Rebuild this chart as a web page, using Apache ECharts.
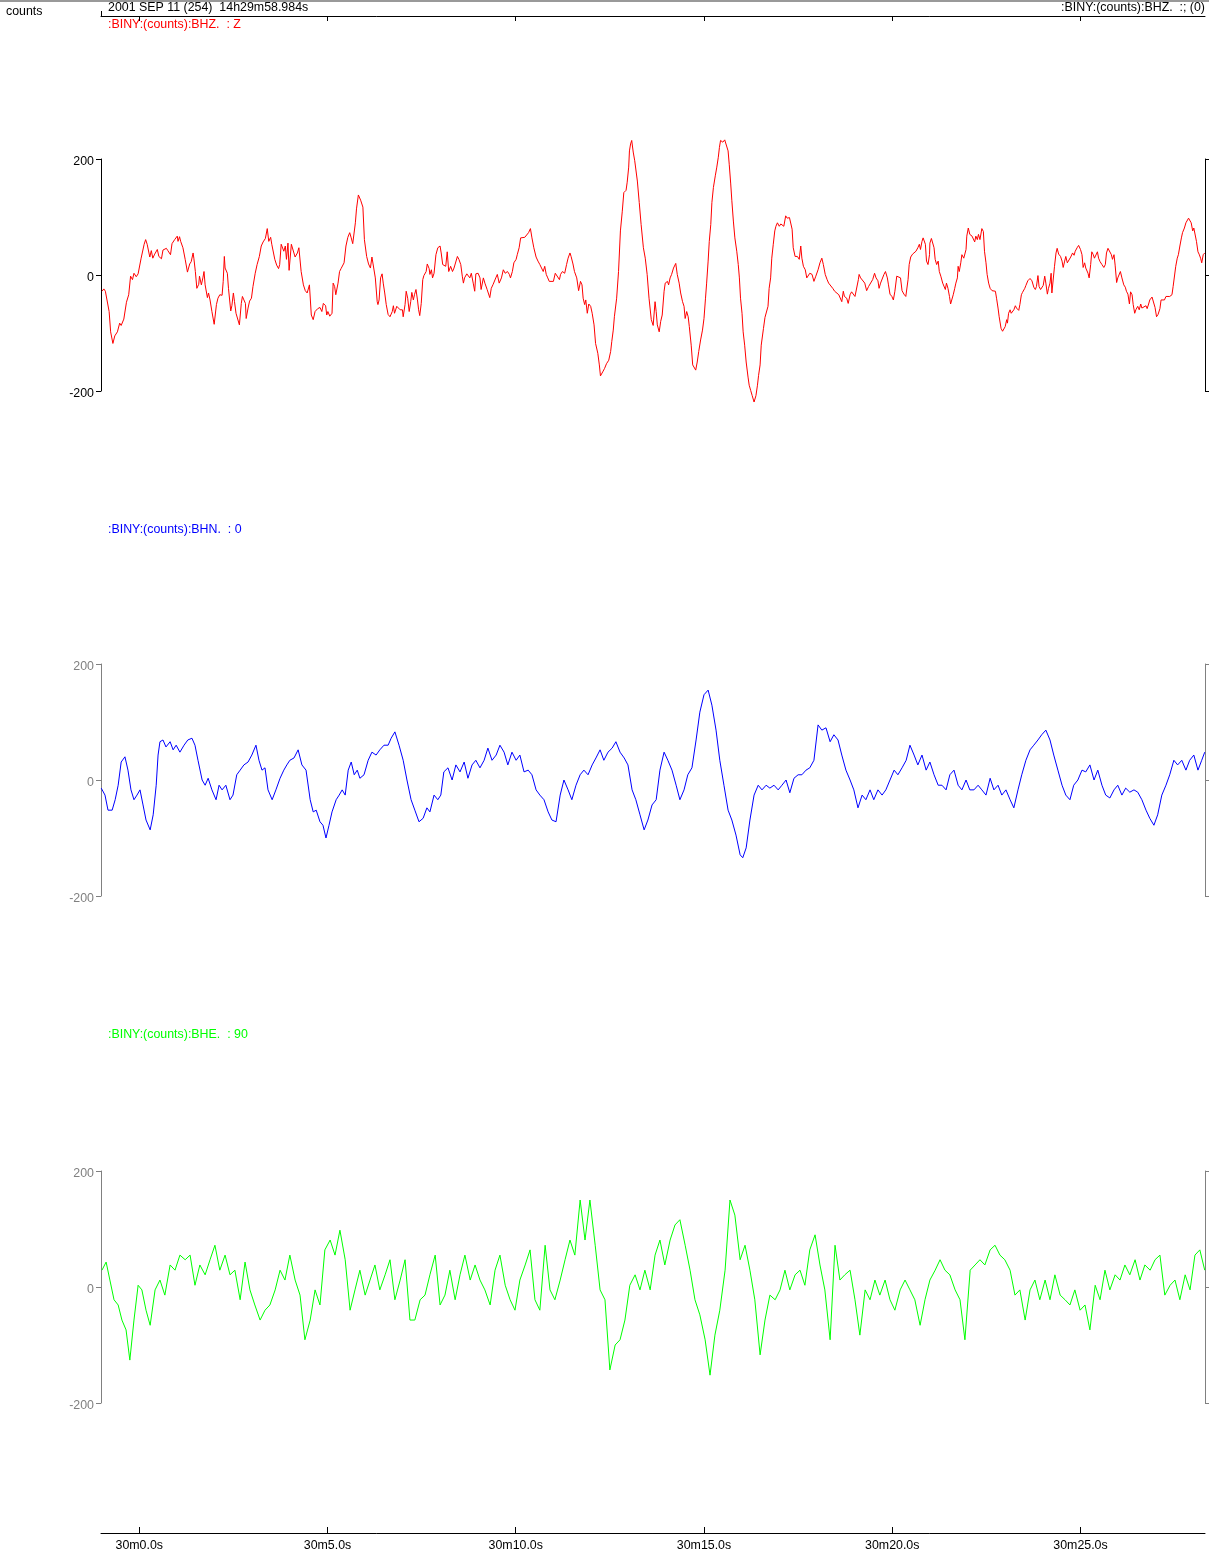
<!DOCTYPE html>
<html><head><meta charset="utf-8">
<script src="https://cdn.jsdelivr.net/npm/echarts@6/dist/echarts.min.js"></script>
<style>html,body{margin:0;padding:0;background:#fff;}#c{width:1209px;height:1552px;}</style>
</head><body><div id="c"></div>
<script>
// ---- data ----
const timeStart = -1.016;   // seconds relative to 14h30m0.0s (start 14h29m58.984s)
const timeEnd = 28.307;
const xTickSeconds = [0, 5, 10, 15, 20, 25];
const xTickLabels = ['30m0.0s', '30m5.0s', '30m10.0s', '30m15.0s', '30m20.0s', '30m25.0s'];
const yTickValues = [-200, 0, 200];
const headerText = '2001 SEP 11 (254)  14h29m58.984s';
const headerRight = ':BINY:(counts):BHZ.  :; (0)';
const unitText = 'counts';
const channelNames = [':BINY:(counts):BHZ.  : Z', ':BINY:(counts):BHN.  : 0', ':BINY:(counts):BHE.  : 90'];

const bhzTime = [-0.99,-0.94,-0.90,-0.85,-0.80,-0.76,-0.70,-0.65,-0.58,-0.52,-0.48,-0.41,-0.34,-0.28,-0.23,-0.18,-0.14,-0.08,-0.03,0.01,0.05,0.13,0.17,0.21,0.28,0.32,0.36,0.41,0.45,0.48,0.52,0.59,0.63,0.72,0.76,0.81,0.83,0.87,0.94,1.01,1.03,1.07,1.10,1.16,1.22,1.28,1.31,1.34,1.38,1.43,1.45,1.49,1.53,1.58,1.60,1.65,1.69,1.72,1.75,1.81,1.84,1.88,1.93,1.99,2.05,2.09,2.14,2.20,2.23,2.26,2.28,2.32,2.34,2.37,2.43,2.46,2.50,2.53,2.57,2.62,2.66,2.71,2.74,2.78,2.82,2.84,2.89,2.93,2.98,3.02,3.08,3.13,3.19,3.24,3.29,3.35,3.40,3.44,3.49,3.52,3.60,3.65,3.70,3.73,3.77,3.82,3.84,3.88,3.91,3.95,3.98,4.04,4.08,4.14,4.20,4.24,4.30,4.36,4.41,4.46,4.52,4.57,4.62,4.67,4.74,4.80,4.85,4.89,4.95,4.98,5.01,5.06,5.12,5.15,5.19,5.22,5.28,5.32,5.36,5.44,5.49,5.54,5.59,5.63,5.67,5.74,5.77,5.82,5.88,5.94,5.98,6.04,6.09,6.14,6.18,6.21,6.27,6.32,
6.34,6.37,6.41,6.45,6.48,6.52,6.56,6.61,6.66,6.72,6.75,6.78,6.84,6.87,6.93,6.99,7.01,7.06,7.09,7.13,7.17,7.21,7.24,7.28,7.31,7.35,7.39,7.42,7.45,7.49,7.53,7.56,7.62,7.65,7.70,7.72,7.76,7.79,7.83,7.88,7.93,7.99,8.02,8.06,8.09,8.14,8.18,8.22,8.27,8.32,8.36,8.40,8.45,8.49,8.54,8.58,8.61,8.64,8.70,8.73,8.78,8.82,8.87,8.91,8.94,9.00,9.05,9.08,9.14,9.18,9.24,9.31,9.35,9.40,9.47,9.51,9.56,9.62,9.67,9.72,9.78,9.83,9.86,9.91,9.95,10.01,10.04,10.09,10.13,10.17,10.24,10.29,10.34,10.39,10.43,10.48,10.54,10.59,10.64,10.68,10.73,10.77,10.81,10.85,10.89,10.94,11.00,11.05,11.10,11.16,11.19,11.24,11.30,11.35,11.39,11.44,11.47,11.52,11.56,11.62,11.67,11.72,11.76,11.79,11.83,11.86,11.90,11.94,11.99,12.03,12.08,12.12,12.18,12.22,12.25,12.31,12.36,12.41,12.47,12.52,12.55,12.59,12.62,12.68,12.73,12.78,12.83,12.87,12.93,12.96,13.00,13.02,13.05,13.08,13.12,13.16,13.23,13.28,13.33,13.39,13.44,13.49,13.54,13.60,13.65,
13.70,13.73,13.76,13.81,13.85,13.89,13.94,13.97,14.03,14.06,14.10,14.14,14.19,14.25,14.29,14.34,14.38,14.43,14.47,14.50,14.54,14.58,14.61,14.66,14.70,14.75,14.78,14.82,14.86,14.91,14.96,15.00,15.04,15.07,15.11,15.14,15.18,15.21,15.25,15.30,15.34,15.38,15.41,15.44,15.50,15.55,15.60,15.64,15.67,15.71,15.74,15.78,15.82,15.87,15.91,15.94,15.97,16.01,16.04,16.08,16.12,16.17,16.20,16.24,16.28,16.33,16.38,16.42,16.45,16.49,16.52,16.58,16.62,16.66,16.70,16.73,16.77,16.80,16.84,16.88,16.91,16.95,17.00,17.04,17.09,17.12,17.17,17.21,17.27,17.30,17.34,17.37,17.42,17.48,17.53,17.57,17.60,17.64,17.69,17.73,17.77,17.81,17.87,17.92,17.97,18.03,18.08,18.13,18.17,18.22,18.27,18.31,18.36,18.42,18.47,18.52,18.58,18.63,18.66,18.70,18.73,18.79,18.83,18.88,18.92,18.96,19.01,19.05,19.10,19.12,19.16,19.21,19.27,19.32,19.37,19.42,19.48,19.53,19.57,19.62,19.65,19.69,19.74,19.78,19.82,19.87,19.90,19.94,19.99,20.03,20.07,20.12,20.17,20.22,20.26,20.31,20.36,20.42,20.45,20.49,20.54,20.58,20.63,20.68,20.72,20.75,20.79,20.82,20.88,20.91,20.95,
20.99,21.00,21.04,21.07,21.11,21.14,21.18,21.22,21.25,21.29,21.34,21.38,21.41,21.44,21.48,21.52,21.55,21.59,21.62,21.66,21.69,21.73,21.75,21.78,21.82,21.85,21.90,21.96,21.98,22.02,22.06,22.12,22.15,22.19,22.22,22.26,22.29,22.33,22.38,22.42,22.45,22.49,22.52,22.56,22.60,22.65,22.70,22.74,22.77,22.81,22.84,22.89,22.93,22.98,23.00,23.04,23.06,23.09,23.13,23.16,23.20,23.23,23.27,23.30,23.36,23.39,23.43,23.46,23.52,23.55,23.60,23.66,23.71,23.76,23.80,23.83,23.87,23.90,23.94,23.98,24.01,24.05,24.08,24.12,24.15,24.19,24.22,24.24,24.28,24.31,24.35,24.38,24.42,24.47,24.51,24.54,24.58,24.61,24.65,24.68,24.74,24.79,24.83,24.86,24.91,24.95,25.00,25.04,25.07,25.11,25.14,25.20,25.23,25.27,25.30,25.34,25.37,25.41,25.45,25.48,25.52,25.57,25.62,25.66,25.69,25.73,25.78,25.82,25.85,25.89,25.92,25.96,25.99,26.03,26.06,26.10,26.15,26.19,26.22,26.26,26.30,26.33,26.37,26.40,26.44,26.47,26.52,26.56,26.60,26.63,26.68,26.74,26.77,26.81,26.84,26.90,26.95,26.98,27.02,27.06,27.11,27.14,27.18,27.23,27.27,27.32,27.37,27.43,27.46,27.50,27.53,27.57,27.60,27.64,27.68,27.71,27.76,27.80,27.83,27.87,27.90,27.94,27.98,28.01,28.05,28.08,28.12,28.15,28.19,28.22,28.26,28.30];
const bhzCounts = [-28,-24,-28,-29,-63,-98,-118,-105,-98,-83,-87,-76,-47,-34,-2,-8,3,-3,2,1,29,53,61,53,31,42,29,36,35,44,32,28,43,46,42,43,35,54,61,67,58,66,58,47,27,5,12,19,23,38,29,6,-23,-16,-2,-17,-5,6,-17,-39,-31,-43,-63,-85,-51,-40,-34,-35,-11,32,12,15,3,-23,-62,-53,-31,-46,-66,-69,-86,-49,-37,-43,-49,-75,-57,-45,-40,-20,3,18,32,50,57,63,80,58,65,53,27,17,11,18,53,54,41,50,27,55,8,53,55,31,38,47,6,-17,-27,-31,-17,-69,-77,-63,-58,-56,-63,-49,-53,-69,-63,-71,-66,-14,-20,-34,-14,6,11,21,50,65,73,64,54,90,114,138,129,117,61,32,19,12,31,19,-5,-46,
-51,-43,-5,2,-14,-31,-51,-68,-72,-63,-53,-66,-54,-56,-60,-60,-72,-51,-28,-40,-63,-46,-30,-43,-34,-25,-43,-60,-70,-49,-8,-1,6,19,11,1,9,-5,3,35,47,50,38,18,21,15,40,6,15,6,12,15,32,27,18,-2,-14,-5,2,3,-5,3,-14,-28,2,3,-5,-25,-5,-14,-25,-39,-23,-16,-5,1,-14,-5,9,3,6,1,-5,6,21,27,35,47,64,61,65,67,73,80,64,47,31,24,18,15,6,15,1,-5,-11,-8,-11,3,1,-8,1,6,3,18,29,38,32,19,6,-5,-27,-11,-17,-40,-51,-43,-66,-50,-54,-66,-86,-118,-135,-155,-174,-167,-161,-153,-147,-132,-115,-95,-72,-40,6,76,110,142,146,160,186,214,226,232,212,197,162,125,87,47,29,1,-40,-77,-87,
-46,-63,-86,-98,-80,-69,-28,-14,-11,-17,-5,1,12,20,1,-14,-31,-46,-54,-75,-63,-72,-89,-121,-155,-158,-164,-150,-132,-112,-95,-75,-40,-14,24,58,87,125,151,171,186,203,220,232,229,233,236,214,191,157,128,93,64,41,18,-5,-40,-66,-98,-121,-150,-176,-190,-199,-208,-219,-208,-190,-173,-155,-121,-92,-73,-75,-54,-23,-5,29,53,76,84,90,84,88,87,84,102,98,99,98,79,47,32,32,27,50,29,15,9,-5,-8,3,1,-11,-2,9,21,29,18,1,-8,-14,-17,-23,-28,-31,-34,-37,-46,-28,-37,-40,-49,-34,-29,-31,-37,-34,-8,1,-5,-2,-14,-27,-20,-17,-8,3,-5,-10,-23,-14,-11,1,6,-5,-17,-33,-37,-43,-28,-2,-5,-5,-27,-33,-37,-8,18,31,36,38,41,47,53,44,58,64,53,24,18,
35,55,63,60,47,27,18,24,6,-2,-14,-17,-25,-14,-23,-37,-50,-47,-34,-23,-14,-5,15,6,21,35,29,44,67,81,70,67,64,57,67,61,70,61,80,75,41,21,1,-14,-23,-27,-26,-28,-40,-57,-72,-92,-97,-98,-89,-77,-83,-66,-60,-66,-63,-60,-53,-57,-61,-51,-34,-30,-23,-18,-10,-6,-10,-21,-25,-20,-1,-20,-25,-28,-18,-2,-14,-33,-23,-14,3,-31,-34,15,38,46,36,32,24,13,24,32,21,24,31,38,34,41,47,51,44,35,13,21,12,3,-5,18,40,35,29,29,40,29,23,18,13,18,38,46,44,35,27,35,17,-13,-5,-2,6,-5,-17,-21,-28,-33,-50,-29,-34,-51,-66,-60,-54,-60,-50,-57,-54,-53,-58,-50,-43,-38,-40,-56,-72,-68,-58,-43,-46,-43,-37,-34,-37,-34,-20,-23,15,29,35,50,64,73,81,90,93,98,100,90,76,81,84,58,40,36,29,21,35,38];

const bhnTime = [-1.01,-0.91,-0.83,-0.72,-0.64,-0.56,-0.48,-0.38,-0.30,-0.22,-0.14,-0.06,0.02,0.10,0.18,0.29,0.37,0.45,0.50,0.55,0.63,0.71,0.82,0.90,0.98,1.08,1.19,1.29,1.40,1.48,1.56,1.67,1.75,1.83,1.93,2.04,2.12,2.20,2.30,2.41,2.49,2.59,2.68,2.78,2.89,2.99,3.10,3.18,3.26,3.34,3.42,3.53,3.63,3.74,3.84,3.92,4.00,4.11,4.22,4.32,4.43,4.54,4.62,4.70,4.80,4.88,4.96,5.04,5.12,5.23,5.31,5.39,5.47,5.55,5.63,5.71,5.79,5.86,5.97,6.08,6.18,6.29,6.39,6.50,6.61,6.69,6.79,6.90,7.01,7.11,7.22,7.32,7.43,7.54,7.64,7.72,7.83,7.93,8.01,8.09,8.20,8.31,8.41,8.52,8.63,8.73,8.84,8.94,9.05,9.16,9.26,9.37,9.48,9.58,9.69,9.79,9.90,10.01,10.11,10.22,10.33,10.43,10.54,10.64,10.75,10.86,10.96,11.07,11.18,11.28,11.39,11.49,11.60,11.71,11.81,11.92,12.03,12.13,12.24,12.34,12.45,12.56,12.66,12.77,12.88,12.98,13.09,13.19,13.30,13.41,13.51,13.62,13.73,13.83,13.94,14.04,14.15,14.26,14.36,14.47,14.57,14.68,14.79,14.89,15.00,15.11,15.21,15.32,15.42,15.53,15.64,15.74,15.85,15.96,16.03,16.12,16.22,16.33,16.44,16.54,16.65,16.75,16.86,16.97,17.07,17.18,17.28,17.39,17.50,17.60,17.71,17.81,17.92,18.03,18.13,18.24,18.35,18.45,18.56,18.66,18.77,18.88,18.98,19.09,19.20,19.30,19.41,19.51,19.62,19.73,19.83,19.94,20.05,20.15,20.26,20.37,20.47,20.58,20.68,20.79,20.90,21.00,21.11,21.22,21.32,21.43,21.53,21.64,21.75,21.85,21.96,22.06,22.17,22.28,22.38,22.49,22.60,22.70,22.81,22.91,23.02,23.13,23.23,23.34,23.44,23.55,23.66,23.76,23.87,23.97,24.08,24.19,24.29,24.40,24.51,24.61,24.72,24.82,24.93,25.04,25.14,25.25,25.36,25.46,25.57,25.67,25.78,25.89,25.99,26.10,26.20,26.31,26.42,26.52,26.63,26.74,26.84,26.95,27.05,27.16,27.27,27.37,27.48,27.58,27.69,27.80,27.90,28.01,28.12,28.22,28.30];
const bhnCounts = [-14,-26,-52,-52,-34,-9,31,40,17,-17,-34,-26,-17,-43,-69,-86,-60,-9,43,66,69,57,66,52,60,48,60,69,72,60,34,0,-9,3,-17,-34,-9,-17,-9,-34,-26,9,17,26,31,43,60,34,17,21,-17,-34,-17,3,17,26,34,38,52,26,17,-34,-55,-52,-72,-78,-100,-78,-55,-34,-26,-17,-26,17,31,9,17,3,9,34,48,43,52,60,60,72,83,60,34,0,-34,-52,-72,-66,-48,-55,-26,-34,-26,14,21,0,26,14,31,3,26,34,21,34,55,34,43,60,48,26,48,34,43,14,17,9,-17,-26,-34,-55,-69,-72,-26,0,-17,-34,-9,9,17,9,26,38,52,34,48,55,66,48,38,26,-17,-34,-60,-86,-69,-43,-34,17,48,34,17,-9,-34,-17,9,21,69,117,147,155,129,86,34,-9,-52,-69,-95,-129,-134,-117,-69,-26,-9,-17,-9,-14,-9,-17,-9,0,-22,3,9,9,17,21,34,95,86,90,66,78,69,43,17,0,-17,-48,-26,-34,-17,-34,-17,-26,-17,0,17,9,21,34,60,43,26,43,17,31,9,-9,-9,-17,9,17,-9,-17,0,-17,-17,-9,-17,-26,3,-17,-9,-26,-17,-34,-48,-17,9,34,52,60,69,78,86,69,43,17,-9,-26,-34,-9,0,17,14,26,0,17,-9,-26,-31,-17,-9,-26,-14,-21,-17,-21,-34,-52,-66,-78,-60,-26,-9,9,34,26,34,17,34,43,17,34,48];

const bheTime = [-0.99,-0.88,-0.78,-0.67,-0.56,-0.46,-0.35,-0.25,-0.14,-0.03,0.07,0.18,0.29,0.42,0.55,0.68,0.82,0.95,1.08,1.22,1.35,1.48,1.61,1.75,1.88,2.01,2.14,2.28,2.41,2.54,2.68,2.81,2.94,3.07,3.21,3.34,3.47,3.61,3.74,3.87,4.00,4.14,4.27,4.40,4.54,4.67,4.80,4.93,5.07,5.20,5.33,5.47,5.60,5.73,5.86,6.00,6.13,6.26,6.39,6.53,6.66,6.79,6.93,7.06,7.19,7.32,7.46,7.59,7.72,7.86,7.99,8.12,8.25,8.39,8.52,8.65,8.79,8.92,9.05,9.18,9.32,9.45,9.58,9.72,9.85,9.98,10.11,10.25,10.38,10.51,10.64,10.78,10.91,11.04,11.18,11.31,11.44,11.57,11.71,11.84,11.97,12.11,12.24,12.37,12.50,12.64,12.77,12.90,13.03,13.17,13.30,13.43,13.57,13.70,13.83,13.96,14.10,14.23,14.36,14.50,14.63,14.76,14.89,15.03,15.16,15.29,15.42,15.56,15.69,15.82,15.96,16.09,16.22,16.35,16.49,16.62,16.75,16.89,17.02,17.15,17.28,17.42,17.55,17.68,17.81,17.95,18.08,18.21,18.35,18.48,18.61,18.74,18.88,19.01,19.14,19.28,19.41,19.54,19.67,19.81,19.94,20.07,20.21,20.34,20.47,20.60,20.74,20.87,21.00,21.14,21.27,21.40,21.53,21.67,21.80,21.93,22.07,22.20,22.33,22.46,22.60,22.73,22.86,22.99,23.13,23.26,23.39,23.53,23.66,23.79,23.92,24.06,24.19,24.32,24.46,24.59,24.72,24.85,24.99,25.12,25.25,25.39,25.52,25.65,25.78,25.92,26.05,26.18,26.31,26.45,26.58,26.71,26.85,26.98,27.11,27.24,27.38,27.51,27.64,27.78,27.91,28.04,28.17,28.30];
const bheCounts = [29,43,12,-22,-31,-57,-74,-126,-57,3,-5,-40,-66,-5,12,-14,38,29,55,47,55,3,38,21,47,72,29,55,21,29,-22,43,-5,-31,-57,-40,-31,-5,29,12,55,12,-14,-91,-57,-5,-31,64,81,55,98,47,-40,-5,29,-14,12,38,-5,21,47,-22,12,47,-57,-57,-22,-14,21,55,-31,-14,29,-22,21,55,12,38,12,-5,-31,29,55,3,-22,-40,12,38,64,-22,-40,72,-5,-22,12,47,81,55,150,81,150,72,-5,-22,-143,-100,-91,-57,3,21,-5,29,-5,55,81,38,81,107,116,72,29,-22,-48,-91,-152,-83,-40,29,150,124,47,72,29,-22,-117,-57,-14,-22,-5,29,-5,21,29,3,64,90,38,-5,-91,72,12,21,29,-22,-83,-5,-22,12,-14,12,-22,-40,-5,12,-5,-22,-66,-22,12,29,47,29,21,-5,-22,-91,29,38,47,38,64,72,55,47,29,-14,-5,-57,-5,12,-22,12,-22,21,-14,-22,-31,-5,-40,-31,-74,3,-22,29,-5,21,12,38,21,47,12,38,29,47,55,-14,3,12,-22,21,-5,55,64,29];

// ---- chart ----
const chart = echarts.init(document.getElementById('c'), null, {renderer: 'canvas'});
const FONT = '"Liberation Sans", Arial, sans-serif';
const FSIZE = 12.4;
const panelTops = [159, 664, 1171];
const panelHeight = 232;
const axisColors = ['#000000', '#808080', '#808080'];
const traceColors = ['#ff0000', '#0000ff', '#00ff00'];
const traces = [[bhzTime, bhzCounts], [bhnTime, bhnCounts], [bheTime, bheCounts]];

const grid = [], xAxis = [], yAxis = [], series = [];
panelTops.forEach((top, i) => {
  grid.push({left: 101, right: 4, top: top, height: panelHeight, containLabel: false});
  xAxis.push({type: 'value', gridIndex: i, min: timeStart, max: timeEnd, show: false});
  const yBase = {type: 'value', gridIndex: i, min: yTickValues[0], max: yTickValues[2], interval: 200,
    splitLine: {show: false},
    axisLine: {show: true, onZero: false, lineStyle: {color: axisColors[i], width: 1}},
    axisTick: {show: true, inside: false, length: 5, lineStyle: {color: axisColors[i]}}};
  yAxis.push(Object.assign({}, yBase, {position: 'left',
    axisLabel: {show: true, color: axisColors[i], fontSize: FSIZE, fontFamily: FONT, margin: 7,
      formatter: '{v|{value}}', rich: {v: {fontSize: FSIZE, fontFamily: FONT, color: axisColors[i], padding: [5, 0, 0, 0]}}}}));
  yAxis.push(Object.assign({}, yBase, {position: 'right', axisLabel: {show: false}}));
  const [tt, vv] = traces[i];
  series.push({type: 'line', xAxisIndex: i, yAxisIndex: 2 * i, showSymbol: false, symbol: 'none',
    clip: false, animation: false, silent: true,
    lineStyle: {color: traceColors[i], width: 1}, itemStyle: {color: traceColors[i]},
    data: tt.map((t, k) => [t, vv[k]])});
});
// frame grid with the shared time axes (top and bottom)
grid.push({left: 101, right: 4, top: 16, height: 1517});
xAxis.push({type: 'value', gridIndex: 3, position: 'top', min: timeStart, max: timeEnd,
  splitLine: {show: false},
  axisLine: {show: true, onZero: false, lineStyle: {color: '#000', width: 1}},
  axisTick: {show: true, inside: true, length: 5, customValues: xTickSeconds, lineStyle: {color: '#000'}},
  axisLabel: {show: false}});
xAxis.push({type: 'value', gridIndex: 3, position: 'bottom', min: timeStart, max: timeEnd,
  splitLine: {show: false},
  axisLine: {show: true, onZero: false, lineStyle: {color: '#000', width: 1}},
  axisTick: {show: true, inside: true, length: 6, customValues: xTickSeconds, lineStyle: {color: '#000'}},
  axisLabel: {show: true, customValues: xTickSeconds, color: '#000', fontSize: FSIZE, fontFamily: FONT, margin: 7,
    formatter: v => xTickLabels[xTickSeconds.indexOf(Math.round(v))] || ''}});
yAxis.push({type: 'value', gridIndex: 3, min: 0, max: 1, show: false});

const textStyle = (x, y, text, color, align) => ({type: 'text', x: x, y: y, silent: true,
  style: {text: text, fill: color, font: FSIZE + 'px ' + FONT, textAlign: align || 'left', textVerticalAlign: 'middle'}});

const graphic = [
  {type: 'rect', shape: {x: 0, y: 0, width: 1209, height: 2}, style: {fill: '#999999'}, silent: true},
  {type: 'line', shape: {x1: 101.5, y1: 11, x2: 101.5, y2: 16.5}, style: {stroke: '#000', lineWidth: 1}, silent: true},
  textStyle(6, 12, unitText, '#000'),
  textStyle(108, 8, headerText, '#000'),
  textStyle(1205, 8, headerRight, '#000', 'right'),
  textStyle(108, 25, channelNames[0], traceColors[0]),
  textStyle(108, 530, channelNames[1], traceColors[1]),
  textStyle(108, 1035, channelNames[2], traceColors[2])
];

chart.setOption({animation: false, backgroundColor: '#fff', grid, xAxis, yAxis, series, graphic});
</script></body></html>
